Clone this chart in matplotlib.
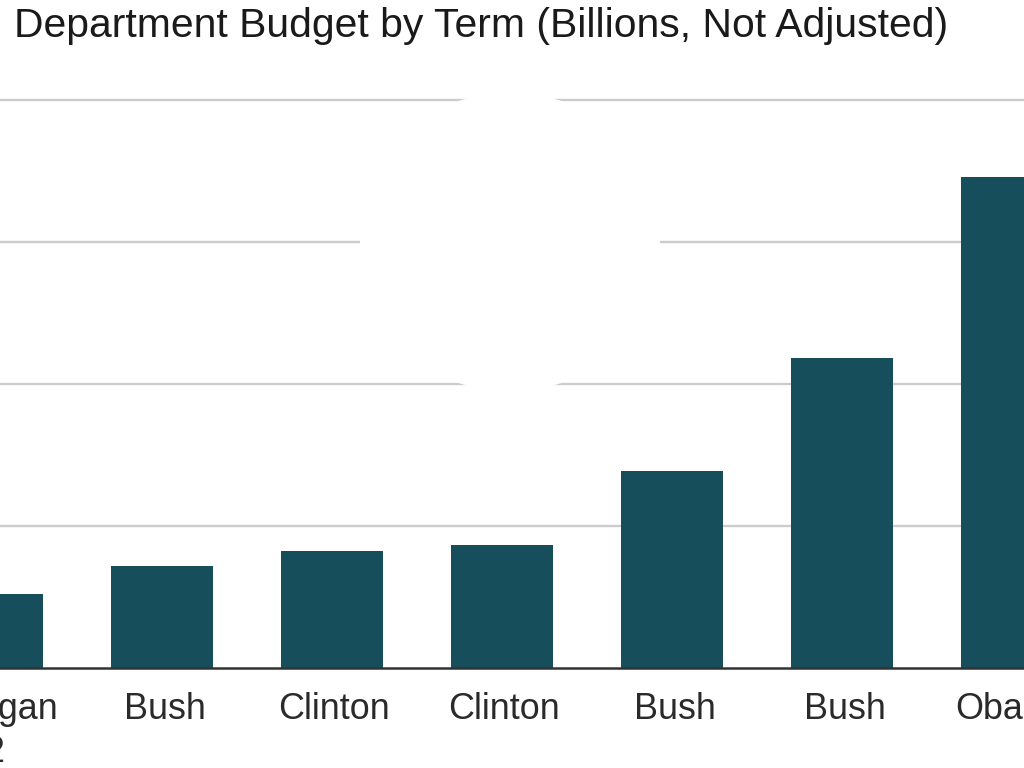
import matplotlib
matplotlib.use("Agg")
import matplotlib.pyplot as plt
import matplotlib.transforms as mtransforms
from matplotlib.patches import Ellipse

terms = ["Reagan\n2", "Bush", "Clinton", "Clinton", "Bush", "Bush", "Obama"]
budget = [52.1, 71.8, 82.4, 86.4, 138.9, 218.1, 345.8]
grid_values = [100, 200, 300, 400]

W, H = 1024, 768
fig = plt.figure(figsize=(W / 100, H / 100), dpi=100)
fig.patch.set_facecolor("white")

# the chart is a crop of a wider plot: the axes extends past the figure edges
slot = 170          # px per category
first_center = -8   # px position of first category centre
left_px = first_center - slot * 0.5
right_px = first_center + slot * (len(terms) - 0.5)
bottom_px, top_px = 668, 60
ax = fig.add_axes([left_px / W, (H - bottom_px) / H,
                   (right_px - left_px) / W, (bottom_px - top_px) / H])
ax.set_facecolor("none")

x = list(range(len(terms)))
ax.bar(x, budget, width=0.6, color="#164E5B", zorder=3)

ax.set_xticks(x)
ax.set_xticklabels(terms, fontsize=25.8, color="#2a2a2a", family="Liberation Sans",
                   linespacing=1.3)
ax.tick_params(axis="x", length=0, pad=17)
shift = mtransforms.ScaledTranslation(2.5 / 100, 0, fig.dpi_scale_trans)
for lab in ax.get_xticklabels():
    lab.set_transform(lab.get_transform() + shift)

ax.set_yticks(grid_values)
ax.yaxis.grid(True, color="#cccccc", linewidth=1.7, zorder=0.5)
ax.set_axisbelow(True)
ax.tick_params(axis="y", left=False, labelleft=False)

ax.set_xlim(-0.5, len(terms) - 0.5)
ax.set_ylim(0, (bottom_px - top_px) / 142 * 100)

for s in ["top", "right", "left"]:
    ax.spines[s].set_visible(False)
ax.spines["bottom"].set_color("#333333")
ax.spines["bottom"].set_linewidth(1.8)
ax.spines["bottom"].set_zorder(4)

# white round overlay covering part of the grid
circ = Ellipse((510 / W, 1 - 242 / H), 300 / W, 300 / H, transform=fig.transFigure,
               facecolor="white", edgecolor="none", zorder=1, clip_on=False)
ax.add_patch(circ)

fig.text(14 / W, 1 - 37 / H, "Department Budget by Term (Billions, Not Adjusted)",
         fontsize=29.4, family="Liberation Sans", color="#1a1a1a",
         ha="left", va="baseline")

fig.savefig("out.png", dpi=100)
